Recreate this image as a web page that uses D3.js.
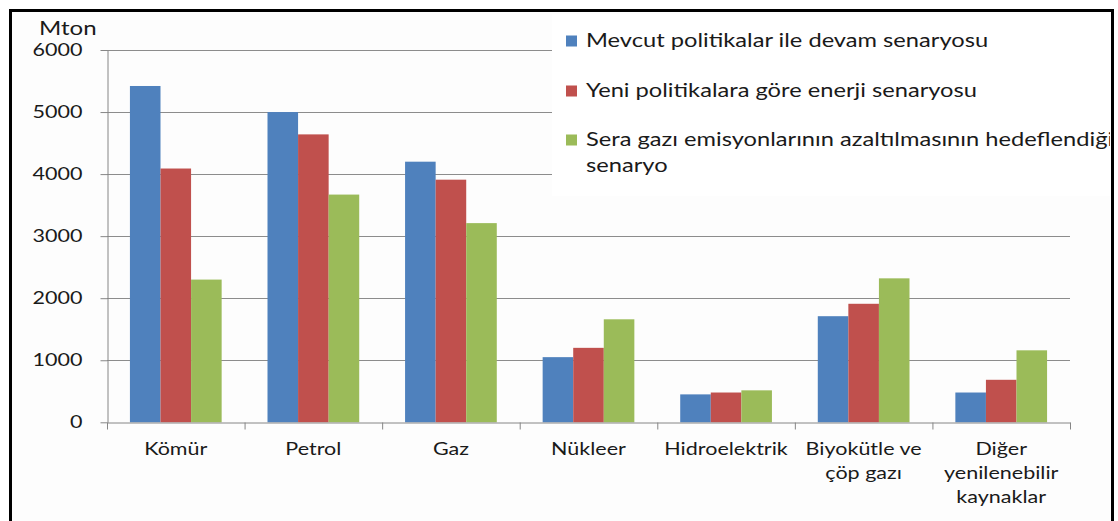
<!DOCTYPE html>
<html><head><meta charset="utf-8">
<script src="https://cdn.jsdelivr.net/npm/d3@7"></script>
<style>body{margin:0;background:#fff}text{font-family:Lato,"Open Sans",sans-serif;fill:#1a1a1a}</style>
</head><body><svg id="c" width="1118" height="521"></svg>
<script>
// ---- data ----
const categories = [["Kömür"],["Petrol"],["Gaz"],["Nükleer"],["Hidroelektrik"],["Biyokütle ve","çöp gazı"],["Diğer","yenilenebilir","kaynaklar"]];
const seriesNames = [["Mevcut politikalar ile devam senaryosu"],["Yeni politikalara göre enerji  senaryosu"],["Sera gazı emisyonlarının azaltılmasının hedeflendiği","senaryo"]];
const mevcut = [5420,5000,4200,1050,450,1710,480];
const yeni   = [4090,4640,3910,1200,480,1910,685];
const sera   = [2300,3670,3210,1660,515,2320,1160];
const yTicks = [0,1000,2000,3000,4000,5000,6000];
const yAxisTitle = "Mton";
const colors = ["#4F81BD","#C0504D","#9BBB59"];

// ---- layout ----
const plot = {left:107, right:1070, top:50, bottom:422.3};
const FS = 17.5, SX = 1.23, LFS = 18.5, LSX = 1.28;

const svg = d3.select("#c");
function stretch(sel, sx){
  sel.each(function(){
    const t = d3.select(this);
    const x = +t.attr("x") || 0;
    t.attr("transform", `translate(${x*(1-sx)},0) scale(${sx},1)`);
  });
}

// frame background
svg.append("rect").attr("x",10.5).attr("y",10.5).attr("width",1102).attr("height",600)
  .attr("fill","#fdfdfd");

const idx = d3.range(categories.length);
const series = [mevcut, yeni, sera];
const sIdx = d3.range(series.length);

const y = d3.scaleLinear().domain([0,6000]).range([plot.bottom, plot.top]);
const x0 = d3.scaleBand().domain(idx).range([plot.left, plot.right]).paddingInner(0).paddingOuter(0);
const x1 = d3.scaleBand().domain(sIdx).range([0, x0.bandwidth()]).paddingInner(0).paddingOuter(0.75);
const xl = d3.scaleLinear().domain([0, categories.length]).range([plot.left, plot.right]);

// gridlines
svg.append("g").selectAll("line").data(yTicks.filter(d=>d>0)).join("line")
  .attr("x1",plot.left).attr("x2",plot.right)
  .attr("y1",d=>Math.round(y(d))+0.5).attr("y2",d=>Math.round(y(d))+0.5)
  .attr("stroke","#8c8c8c").attr("stroke-width",1);

// bars
const groups = svg.append("g").selectAll("g").data(idx).join("g")
  .attr("transform", i=>`translate(${x0(i)},0)`);
groups.selectAll("rect").data(i=>sIdx.map(s=>({s, v:series[s][i]}))).join("rect")
  .attr("x",d=>x1(d.s)).attr("width",x1.bandwidth())
  .attr("y",d=>y(d.v)).attr("height",d=>y(0)-y(d.v))
  .attr("fill",d=>colors[d.s]);

// y axis
const yAxis = svg.append("g").attr("transform",`translate(${plot.left+0.5},0)`)
  .call(d3.axisLeft(y).tickValues(yTicks).tickFormat(d3.format("d")).tickSize(7).tickSizeOuter(0).tickPadding(18));
yAxis.selectAll("path,line").attr("stroke","#868686");
yAxis.selectAll("text").attr("font-size",FS).attr("font-family","Lato").attr("fill","#1a1a1a").call(stretch,SX);

// x axis (boundary ticks)
const xAxis = svg.append("g").attr("transform",`translate(0,${Math.round(plot.bottom)+0.5})`)
  .call(d3.axisBottom(xl).tickValues(d3.range(categories.length+1)).tickFormat("").tickSize(7).tickSizeOuter(0));
xAxis.selectAll("path,line").attr("stroke","#868686");

// category labels
const xLab = svg.append("g").attr("transform",`translate(0,${plot.bottom})`)
  .call(d3.axisBottom(x0).tickSize(0).tickPadding(20.6).tickFormat(""));
xLab.select(".domain").remove();
xLab.selectAll(".tick text").each(function(i){
  const t = d3.select(this).attr("font-size",FS).attr("font-family","Lato").attr("fill","#1a1a1a");
  categories[i].forEach((line,k)=>{
    t.append("tspan").attr("x",0).attr("dy",k===0?null:24).text(line);
  });
}).call(stretch,SX);

// y title
svg.append("text").attr("x",39).attr("y",35).attr("font-size",LFS).text(yAxisTitle).call(stretch,1.3);

// legend
svg.append("clipPath").attr("id","lc").append("rect").attr("x",540).attr("y",12).attr("width",570).attr("height",200);
const leg = svg.append("g").attr("clip-path","url(#lc)");
leg.append("rect").attr("x",552).attr("y",14).attr("width",570).attr("height",182).attr("fill","#fff");
const rowY = [41, 91, 140];
seriesNames.forEach((lines,s)=>{
  leg.append("rect").attr("x",566).attr("y",rowY[s]-5.5).attr("width",11).attr("height",11).attr("fill",colors[s]);
  lines.forEach((line,k)=>{
    leg.append("text").attr("x",586).attr("y",rowY[s]+6+k*26).attr("font-size",LFS).text(line).call(stretch,LSX);
  });
});

// frame border
svg.append("rect").attr("x",10.5).attr("y",10.5).attr("width",1102).attr("height",600)
  .attr("fill","none").attr("stroke","#000").attr("stroke-width",3);
</script></body></html>
